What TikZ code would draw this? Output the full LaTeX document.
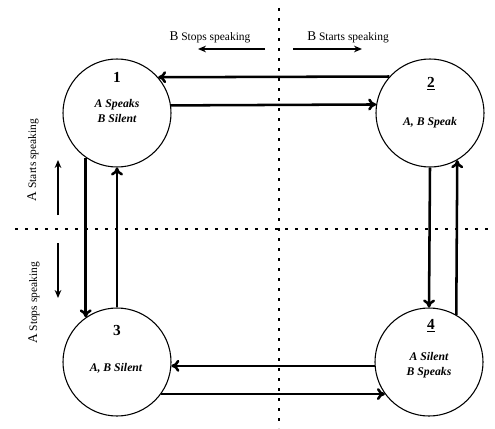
\documentclass[tikz,border=0pt]{standalone}
\usepackage{fontspec}
\setmainfont{Liberation Serif}
\usetikzlibrary{arrows.meta}
\tikzset{every picture/.style={x=0.75pt,y=-0.75pt}}
\tikzset{state/.style={circle,draw,line width=0.8pt,minimum size=81pt,inner sep=0pt},
  num/.style={font=\fontsize{11.5}{12}\selectfont\bfseries},
  txt/.style={font=\fontsize{8.8}{11.5}\selectfont\bfseries\itshape,align=center},
  move/.style={line width=1.9pt,-{To[length=6pt,width=9pt]}},
  hint/.style={line width=0.9pt,-{Stealth[length=6pt,width=5pt]}},
  note/.style={font=\fontsize{8.6}{9}\selectfont,inner sep=1pt},
  sep/.style={line width=2.2pt,dash pattern=on 2.2pt off 5.3pt}}

\begin{document}
\begin{tikzpicture}
      \useasboundingbox (0,0) rectangle (495,428);

      % dotted axes
      \coordinate (top) at (279,8);
      \coordinate (bot) at (279,428);
      \coordinate (lft) at (15,229);
      \coordinate (rgt) at (495,229);
      \draw[sep](top)--(bot);
      \draw[sep](lft)--(rgt);

      \node[state] (v1) at (117,113){};
      \node[state] (v2) at (430,113){};
      \node[state] (v3) at (117,362){};
      \node[state] (v4) at (429,362){};

      \node[num] (n1) at (117,77){1};
      \node[txt] (t1) at (117,111){A Speaks\\B Silent};
      \node[num] (n2) at (431,84){\underline{2}};
      \node[txt] (t2) at (430,123){A, B Speak};
      \node[num] (n3) at (117,330){3};
      \node[txt] (t3) at (116,368){A, B Silent};
      \node[num] (n4) at (431,326){\underline{4}};
      \node[txt] (t4) at (429,365){A Silent\\B Speaks};

      \draw[move](v2.138.2)--(v1.41.8);
      \draw[move](v1.8.5)--(v2.171.5);
      \draw[move](v4.184.2)--(v3.-4.2);
      \draw[move](v3.-36.3)--(v4.216.3);
      \draw[move](v1.-125)--(v3.125);
      \draw[move](v3.north)--(v1.south);
      \draw[move](v2.south)--(v4.north);
      \draw[move](v4.60)--(v2.-60);

      % direction hints
      \node[note] (bstop) at (210,37){{\fontsize{10}{10}\selectfont B} Stops speaking};
      \node[note] (bstart) at (348,37){{\fontsize{10}{10}\selectfont B} Starts speaking};
      \node[note,rotate=90] (astart) at (33,160){{\fontsize{10}{10}\selectfont A} Starts speaking};
      \node[note,rotate=90] (astop) at (34,303){{\fontsize{10}{10}\selectfont A} Stops speaking};
      \coordinate (h1a) at (265,49); \coordinate (h1b) at (198,49);
      \coordinate (h2a) at (293,49); \coordinate (h2b) at (362,49);
      \coordinate (h3a) at (58,215); \coordinate (h3b) at (58,160);
      \coordinate (h4a) at (58,243); \coordinate (h4b) at (58,298);
      \draw[hint](h1a)--(h1b);
      \draw[hint](h2a)--(h2b);
      \draw[hint](h3a)--(h3b);
      \draw[hint](h4a)--(h4b);
    \end{tikzpicture}
\end{document}
